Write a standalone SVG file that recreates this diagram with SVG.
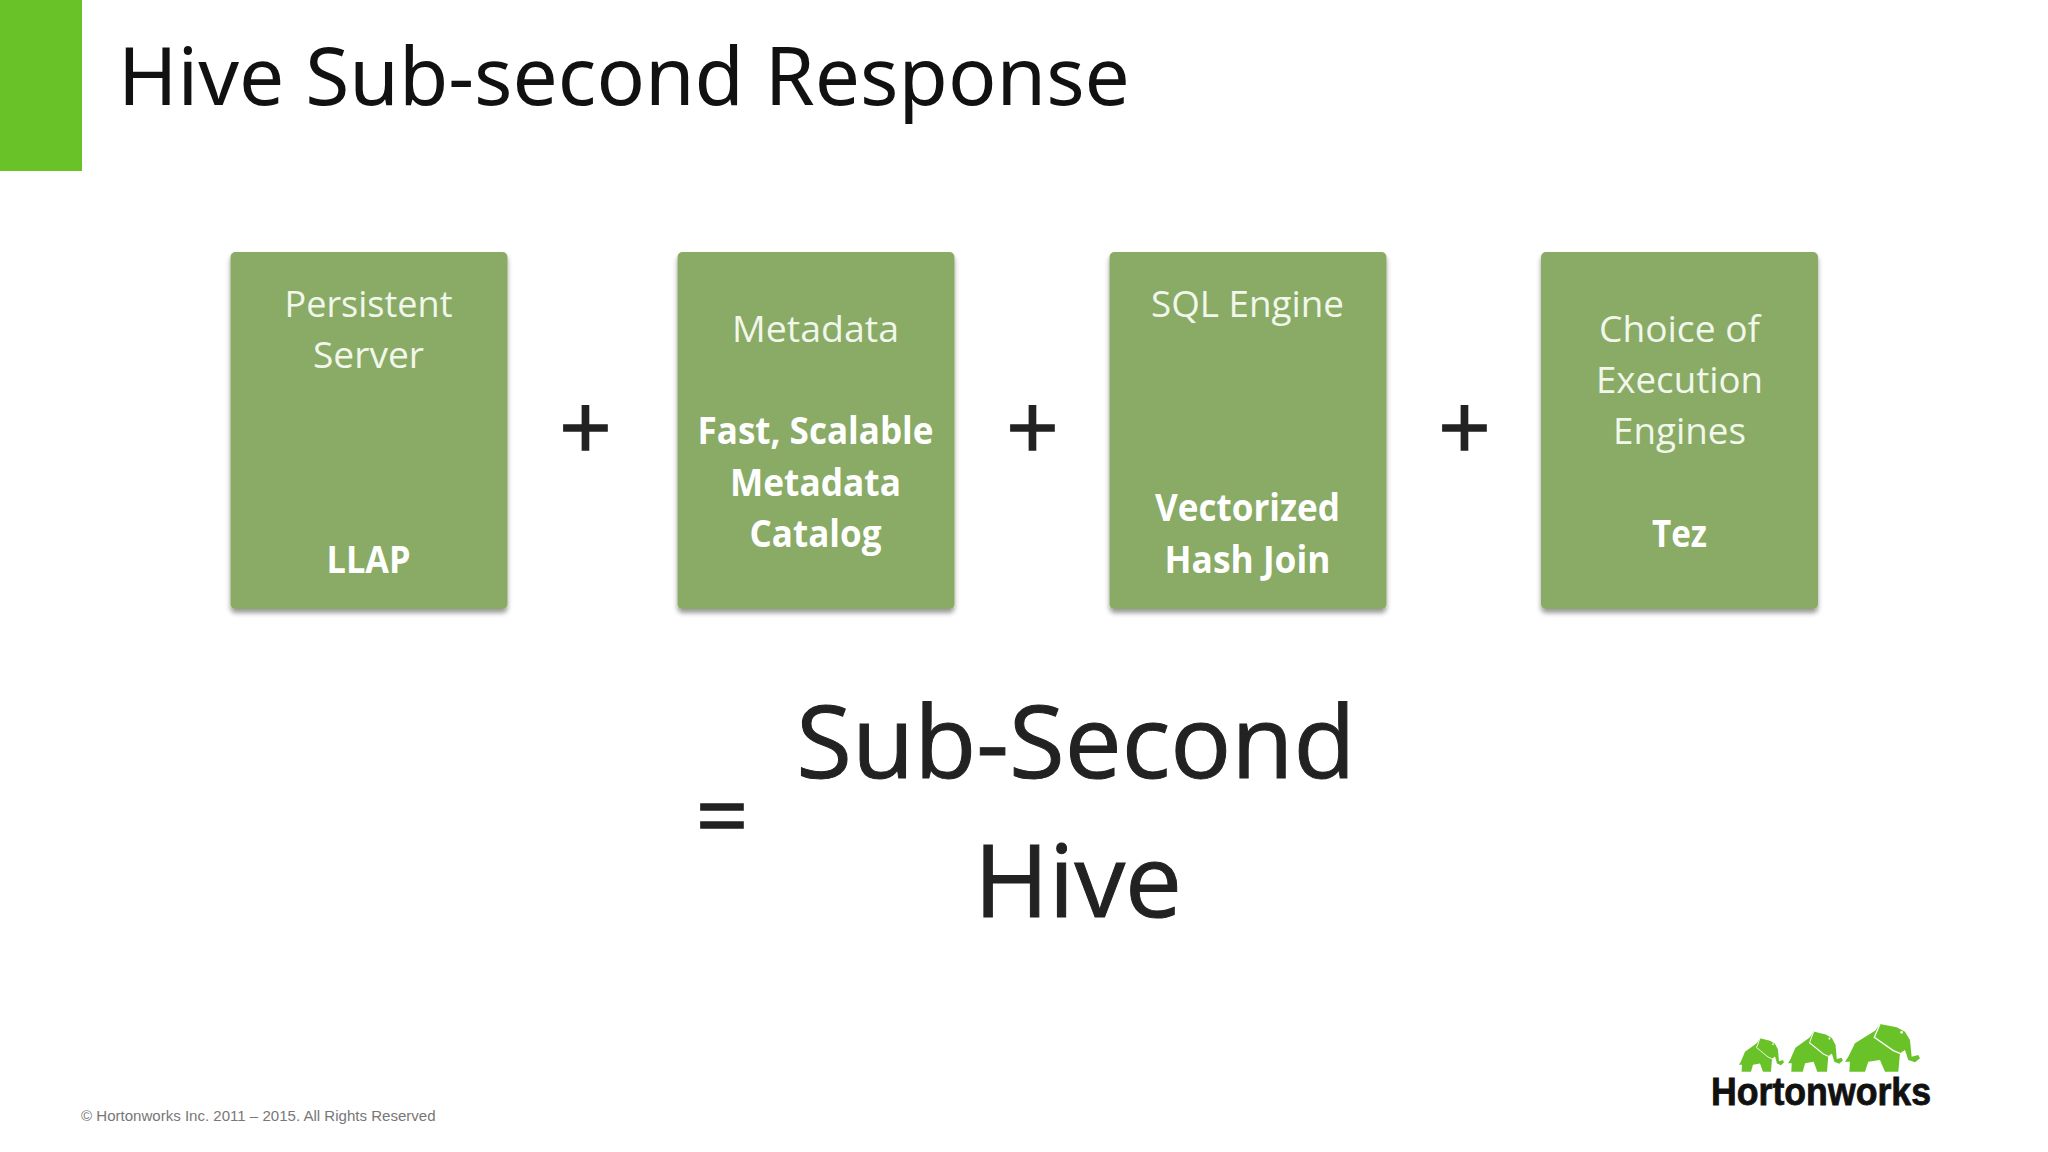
<svg xmlns="http://www.w3.org/2000/svg" width="2048" height="1152" viewBox="0 0 2048 1152">
<defs>
<filter id="sh" x="-5%" y="-5%" width="110%" height="110%"><feDropShadow dx="0" dy="4" stdDeviation="2.500" flood-color="#000" flood-opacity="0.4"/></filter>
<g id="eleph"><path fill="#6ac229" d="M-5 -30L5 -45L25 -85L85 -123L100 -143L150 -133L175 -120L190 -95L195 -45L215 -50L220 -40L205 -28L185 -35L175 -65L160 -55L155 0L115 0L100 -35L65 -30L55 0L8 0L10 -30Z"/><path fill="none" stroke="#fff" stroke-width="4" d="M100 -143L83 -103L140 -63L160 -55"/><circle cx="165" cy="-118" r="4" fill="#fff"/></g>
</defs>
<style>
text{font-family:"Open Sans","Noto Sans",sans-serif}
.box{fill:#89ab65;filter:url(#sh)}
.t{font-size:37px;fill:#f2f7ec;text-anchor:middle}
.b{font-size:37px;fill:#fff;font-weight:700;text-anchor:middle}
.op{font-size:92px;fill:#222;stroke:#222;stroke-width:1.500;text-anchor:middle}
.big{font-size:101.500px;fill:#222;stroke:#222;stroke-width:1;text-anchor:middle}
</style>
<rect width="2048" height="1152" fill="#fff"/>
<rect width="82" height="171" fill="#6ac229"/>
<text x="118" y="105" font-size="80.300" fill="#111" style="font-family:'Noto Sans','Open Sans',sans-serif">Hive Sub-second Response</text>
<g id="n1"><rect class="box" x="230.500" y="252" width="277" height="357" rx="5"/><text class="t" x="368.500" y="317" textLength="168" lengthAdjust="spacingAndGlyphs">Persistent</text><text class="t" x="368.500" y="368" textLength="111" lengthAdjust="spacingAndGlyphs">Server</text><text class="b" x="368.500" y="573" textLength="84" lengthAdjust="spacingAndGlyphs">LLAP</text></g>
<g id="n2"><rect class="box" x="677.500" y="252" width="277" height="357" rx="5"/><text class="t" x="815.500" y="342" textLength="167" lengthAdjust="spacingAndGlyphs">Metadata</text><text class="b" x="815.500" y="444" textLength="236" lengthAdjust="spacingAndGlyphs">Fast, Scalable</text><text class="b" x="815.500" y="496" textLength="171" lengthAdjust="spacingAndGlyphs">Metadata</text><text class="b" x="815.500" y="547" textLength="132" lengthAdjust="spacingAndGlyphs">Catalog</text></g>
<g id="n3"><rect class="box" x="1109.500" y="252" width="277" height="357" rx="5"/><text class="t" x="1247.500" y="317" textLength="193" lengthAdjust="spacingAndGlyphs">SQL Engine</text><text class="b" x="1247.500" y="521" textLength="185" lengthAdjust="spacingAndGlyphs">Vectorized</text><text class="b" x="1247.500" y="573" textLength="166" lengthAdjust="spacingAndGlyphs">Hash Join</text></g>
<g id="n4"><rect class="box" x="1541" y="252" width="277" height="357" rx="5"/><text class="t" x="1679.500" y="342" textLength="161" lengthAdjust="spacingAndGlyphs">Choice of</text><text class="t" x="1679.500" y="393" textLength="167" lengthAdjust="spacingAndGlyphs">Execution</text><text class="t" x="1679.500" y="444" textLength="133" lengthAdjust="spacingAndGlyphs">Engines</text><text class="b" x="1679.500" y="547" textLength="55" lengthAdjust="spacingAndGlyphs">Tez</text></g>
<g id="ops"><text class="op" x="585.500" y="460">+</text><text class="op" x="1032.500" y="460">+</text><text class="op" x="1464.500" y="460">+</text><text class="op" x="722" y="848">=</text></g>
<g id="result"><text class="big" x="1076" y="778">Sub-Second</text><text class="big" x="1078" y="917">Hive</text></g>
<text x="81" y="1121" font-size="15.050" fill="#777" style="font-family:'Liberation Sans',sans-serif">© Hortonworks Inc. 2011 – 2015. All Rights Reserved</text>
<g id="logo"><g transform="translate(1680,1000) scale(.3333)"><use href="#eleph" transform="translate(180,215) scale(.6,.7)"/><use href="#eleph" transform="translate(328,215) scale(.73,.84)"/><use href="#eleph" transform="translate(500,215)"/></g>
<text x="1711" y="1105" font-size="38" font-weight="700" fill="#111" stroke="#111" stroke-width=".8" textLength="220" lengthAdjust="spacingAndGlyphs" style="font-family:'Liberation Sans',sans-serif">Hortonworks</text></g>
</svg>
